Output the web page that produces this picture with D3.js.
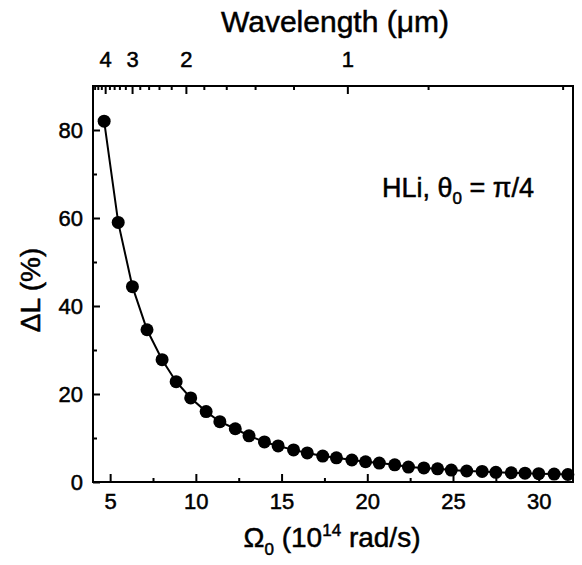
<!DOCTYPE html>
<html>
<head>
<meta charset="utf-8">
<script src="https://cdn.jsdelivr.net/npm/d3@7"></script>
<style>
  body { margin: 0; background: #fff; }
  svg { font-family: "Liberation Sans", Arial, sans-serif; }
  svg text { fill: #000; stroke: #000; stroke-width: 0.5; }
  .axis path, .axis line { stroke: #000; stroke-width: 2; }
  .axis text { font-size: 22px; }
</style>
</head>
<body>
<svg id="chart" width="582" height="565"></svg>
<script>
// Omega_0 (10^14 rad/s) and Delta L (%)
const omega = [4.65, 5.47, 6.3, 7.15, 8.03, 8.85, 9.7, 10.6, 11.4, 12.3, 13.1,
  14.0, 14.8, 15.7, 16.5, 17.4, 18.2, 19.1, 19.9, 20.7, 21.6, 22.4, 23.3,
  24.1, 24.9, 25.8, 26.7, 27.5, 28.4, 29.2, 30.0, 30.9, 31.7];
const deltaL = [82.0, 59.0, 44.4, 34.6, 27.8, 22.8, 19.1, 16.0, 13.7, 12.1, 10.5,
  9.1, 8.2, 7.3, 6.6, 5.9, 5.5, 5.0, 4.6, 4.3, 3.9, 3.4, 3.2,
  3.0, 2.7, 2.5, 2.4, 2.2, 2.1, 2.0, 1.9, 1.8, 1.7];

const xTicks = [5, 10, 15, 20, 25, 30];
const xMinor = [7.5, 12.5, 17.5, 22.5, 27.5];
const yTicks = [0, 20, 40, 60, 80];
const yMinor = [10, 30, 50, 70];
const lambdaTicks = [1, 2, 3, 4];
const lambdaMinor = [0.6, 0.8, 1.2, 1.4, 1.6, 1.8, 2.2, 2.4, 2.6, 2.8,
  3.2, 3.4, 3.6, 3.8, 4.2, 4.4, 4.6];

// lambda (um) = 2*pi*c / Omega, Omega in 1e14 rad/s
const C = 2 * Math.PI * 2.998;

const margin = { top: 86, right: 9, bottom: 83, left: 93 };
const width = 582, height = 565;
const svg = d3.select("#chart");

const x = d3.scaleLinear().domain([4, 32]).range([margin.left, width - margin.right]);
const y = d3.scaleLinear().domain([0, 90]).range([height - margin.bottom, margin.top]);
// pow scale with exponent -1 maps wavelength onto the same pixel range
const xTop = d3.scalePow().exponent(-1)
  .domain([C / 4, C / 32]).range([margin.left, width - margin.right]);

// frame
svg.append("rect")
  .attr("x", x(4)).attr("y", y(90))
  .attr("width", x(32) - x(4)).attr("height", y(0) - y(90))
  .attr("fill", "none").attr("stroke", "#000").attr("stroke-width", 2);

// bottom axis
svg.append("g").attr("class", "axis")
  .attr("transform", `translate(0,${y(0)})`)
  .call(d3.axisBottom(x).tickValues(xTicks).tickSize(-8).tickPadding(11))
  .call(g => g.select(".domain").remove());
svg.append("g").attr("class", "axis")
  .attr("transform", `translate(0,${y(0)})`)
  .call(d3.axisBottom(x).tickValues(xMinor).tickSize(-4).tickFormat(""))
  .call(g => g.select(".domain").remove());

// left axis
svg.append("g").attr("class", "axis")
  .attr("transform", `translate(${x(4)},0)`)
  .call(d3.axisLeft(y).tickValues(yTicks).tickSize(-7).tickPadding(10))
  .call(g => g.select(".domain").remove());
svg.append("g").attr("class", "axis")
  .attr("transform", `translate(${x(4)},0)`)
  .call(d3.axisLeft(y).tickValues(yMinor).tickSize(-4).tickFormat(""))
  .call(g => g.select(".domain").remove());

// top axis (wavelength)
svg.append("g").attr("class", "axis")
  .attr("transform", `translate(0,${y(90)})`)
  .call(d3.axisTop(xTop).tickValues(lambdaTicks).tickSize(-8).tickPadding(19)
    .tickFormat(d3.format("d")))
  .call(g => g.select(".domain").remove());
svg.append("g").attr("class", "axis")
  .attr("transform", `translate(0,${y(90)})`)
  .call(d3.axisTop(xTop).tickValues(lambdaMinor).tickSize(-4).tickFormat(""))
  .call(g => g.select(".domain").remove());

// data
const pts = omega.map((o, i) => [o, deltaL[i]]);
svg.append("path")
  .datum(pts)
  .attr("fill", "none").attr("stroke", "#000").attr("stroke-width", 2)
  .attr("d", d3.line().x(d => x(d[0])).y(d => y(d[1])));
svg.append("g").selectAll("circle")
  .data(pts).join("circle")
  .attr("cx", d => x(d[0])).attr("cy", d => y(d[1]))
  .attr("r", 6.5).attr("fill", "#000");

// titles
svg.append("text")
  .attr("x", 335).attr("y", 32)
  .attr("text-anchor", "middle").attr("font-size", 30)
  .text("Wavelength (\u03bcm)");

const xt = svg.append("text")
  .attr("x", 332).attr("y", 547)
  .attr("text-anchor", "middle").attr("font-size", 28);
xt.append("tspan").text("\u03a9");
xt.append("tspan").attr("font-size", 17).attr("dy", 8).text("0");
xt.append("tspan").attr("dy", -8).text(" (10");
xt.append("tspan").attr("font-size", 17).attr("dy", -11).text("14");
xt.append("tspan").attr("dy", 11).text(" rad/s)");

svg.append("text")
  .attr("transform", `translate(40,${290}) rotate(-90)`)
  .attr("text-anchor", "middle").attr("font-size", 28)
  .text("\u0394L (%)");

const ann = svg.append("text")
  .attr("x", 382).attr("y", 197).attr("font-size", 27);
ann.append("tspan").text("HLi, \u03b8");
ann.append("tspan").attr("font-size", 17).attr("dy", 7).text("0");
ann.append("tspan").attr("dy", -7).text(" = \u03c0/4");
</script>
</body>
</html>
